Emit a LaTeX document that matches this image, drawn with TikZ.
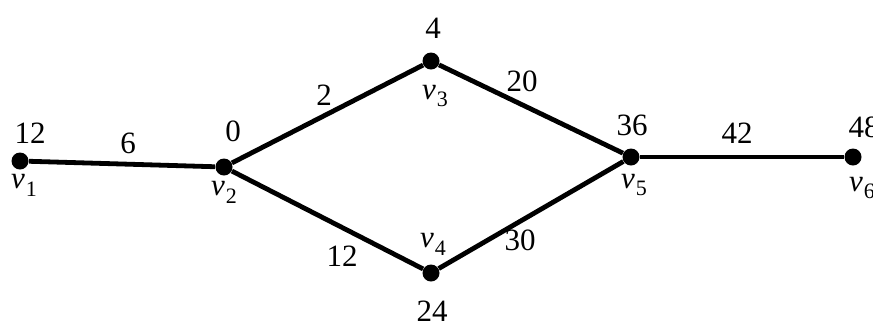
\documentclass[tikz,border=0pt]{standalone}
\usepackage{fontspec}
\setmainfont{Liberation Serif}
\newcommand{\vname}[1]{\textit{v}\kern0.5pt\raisebox{-0.25em}{\fontsize{11}{13}\selectfont #1}}
\begin{document}
\begin{tikzpicture}[x=0.5pt,y=-0.5pt,
  vtx/.style={circle,fill=black,inner sep=0pt,minimum width=8pt,minimum height=8.5pt},
  edge/.style={line width=2.4pt},
  lab/.style={inner sep=0pt,font=\fontsize{15.5}{18}\selectfont}]
\useasboundingbox (0,0) rectangle (873,329);
\node[vtx] (v1) at (20,161) {};
\node[vtx] (v2) at (224,167) {};
\node[vtx] (v3) at (431,61) {};
\node[vtx] (v4) at (431,273) {};
\node[vtx] (v5) at (631,157) {};
\node[vtx] (v6) at (853,157) {};
\draw[edge] (v1) -- (v2);
\draw[edge] (v2) -- (v3);
\draw[edge] (v2) -- (v4);
\draw[edge] (v3) -- (v5);
\draw[edge] (v4) -- (v5);
\draw[edge] (v5) -- (v6);
% vertex values
\node[lab] (t1) at (30,133) {12};
\node[lab] (t2) at (233,131) {0};
\node[lab] (t3) at (433,28) {4};
\node[lab] (t4) at (432,311) {24};
\node[lab] (t5) at (632,125) {36};
\node[lab] (t6) at (864,127) {48};
% vertex names
\node[lab] (n1) at (24,185) {\vname{1}};
\node[lab] (n2) at (224,192) {\vname{2}};
\node[lab] (n3) at (435,96) {\vname{3}};
\node[lab] (n4) at (433,244) {\vname{4}};
\node[lab] (n5) at (634,185) {\vname{5}};
\node[lab] (n6) at (862,188) {\vname{6}};
% edge weights
\node[lab] (w12) at (128,143) {6};
\node[lab] (w23) at (324,95) {2};
\node[lab] (w24) at (342,256) {12};
\node[lab] (w35) at (522,81) {20};
\node[lab] (w45) at (520,240) {30};
\node[lab] (w56) at (737,133) {42};
\end{tikzpicture}
\end{document}
